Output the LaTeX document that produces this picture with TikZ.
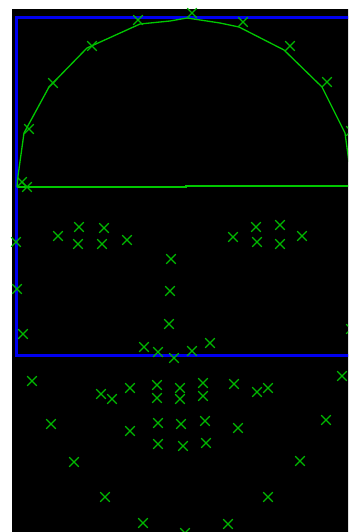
\documentclass[tikz,border=0pt]{standalone}
\usepackage{tikz}
\usetikzlibrary{shapes.misc}
\definecolor{boxblue}{RGB}{0,0,240}
\definecolor{fitgreen}{RGB}{0,200,0}
\definecolor{ptgreen}{RGB}{0,185,0}

\begin{document}
\begin{tikzpicture}[x=1pt, y=-1pt,
    lmk/.style={cross out, draw=ptgreen, line width=1.1pt,
                minimum size=8.5pt, inner sep=0pt}]
  \useasboundingbox (0,0) rectangle (348,532);
  \clip (0,0) rectangle (348,532);
  % backdrop
  \fill[black] (12,9) rectangle (352,536);
  % detection box
  \draw[boxblue, line width=3pt] (16,18) rectangle (362,355.5);
  % fitted head outline
  \draw[fitgreen, line width=1.3pt, line join=round]
    (17,187) -- (18,176) -- (24,133) -- (49,87) -- (87,48) -- (140,24)
    -- (170,21) -- (187,18) -- (220,23) -- (239,27) -- (284,50)
    -- (322,87) -- (345,133) -- (348,155) -- (352,186);
  \draw[fitgreen, line width=1.6pt] (17,187) -- (186,187) -- (186,186) -- (356,186);
  % landmarks: head top
  \foreach \px/\py [count=\i] in {138/20, 92/46, 53/83, 29/129, 22/182,
      27/187, 192/13, 243/22, 290/46, 327/82, 351/131} {
    \node[lmk] (h\i) at (\px,\py) {};
  }
  % landmarks: face
  \foreach \px/\py [count=\i] in {16/242, 17/289, 23/334, 351/329,
      58/236, 79/227, 104/228, 127/240, 78/244, 102/244,
      233/237, 256/227, 280/225, 302/236, 257/242, 280/244,
      171/259, 170/291, 169/324,
      144/347, 158/352, 174/358, 192/351, 210/343} {
    \node[lmk] (f\i) at (\px,\py) {};
  }
  % landmarks: below the box
  \foreach \px/\py [count=\i] in {32/381, 101/394, 112/399, 130/388,
      157/385, 157/398, 51/424, 130/431, 158/423, 158/444, 74/462,
      105/497, 143/523, 180/388, 203/383, 180/399, 203/396, 234/384,
      257/392, 268/388, 342/376, 181/424, 205/421, 238/428, 326/420,
      183/446, 206/443, 300/461, 268/497, 228/524, 185/533} {
    \node[lmk] (b\i) at (\px,\py) {};
  }
\end{tikzpicture}
\end{document}
